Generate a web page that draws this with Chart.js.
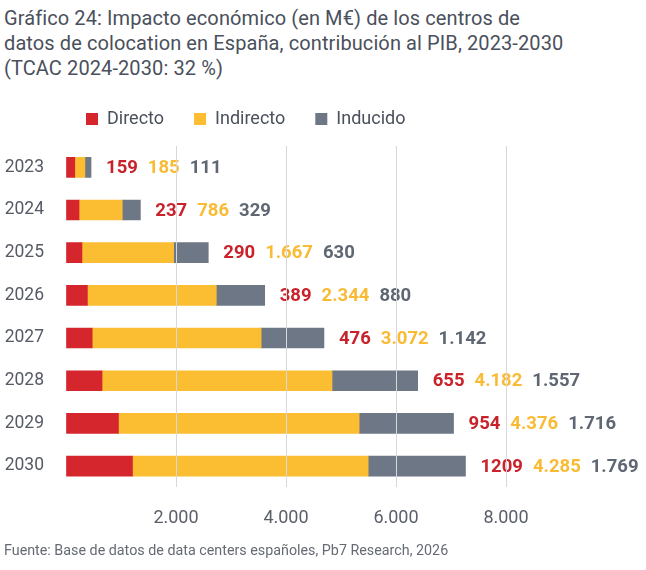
<!DOCTYPE html>
<html>
<head>
<meta charset="utf-8">
<script src="https://cdn.jsdelivr.net/npm/chart.js@4"></script>
<style>
  body { margin: 0; background: #fff; font-family: Roboto, sans-serif; }
  #wrap { position: relative; width: 646px; height: 570px; }
  #title { position: absolute; left: 4px; top: 6px; font-size: 20px; letter-spacing: 0.1px; line-height: 25px; color: #4a505c; }
  #chartBox { position: absolute; left: 0; top: 80px; width: 646px; height: 469px; }
  #source { position: absolute; left: 4px; top: 542px; font-size: 14.3px; color: #666b73; }
</style>
</head>
<body>
<div id="wrap">
  <div id="title">Gráfico 24: Impacto económico (en M€) de los centros de<br>datos de colocation en España, contribución al PIB, 2023-2030<br>(TCAC 2024-2030: 32 %)</div>
  <div id="chartBox"><canvas id="barChart"></canvas></div>
  <div id="source">Fuente: Base de datos de data centers españoles, Pb7 Research, 2026</div>
</div>
<script>
// years on the y axis
const years = ["2023", "2024", "2025", "2026", "2027", "2028", "2029", "2030"];

// economic impact per year (M€)
const directo = [159, 237, 290, 389, 476, 655, 954, 1209];
const indirecto = [185, 786, 1667, 2344, 3072, 4182, 4376, 4285];
const inducido = [111, 329, 630, 880, 1142, 1557, 1716, 1769];

// x axis ticks
const xTicks = [2000, 4000, 6000, 8000];

const RED = "#d5262e";
const YELLOW = "#fbbd31";
const GREY = "#6e7786";

// spanish style thousands: 4.285
function fmt(n, grouped) {
    if (!grouped) return String(n);
    return String(n).replace(/\B(?=(\d{3})+(?!\d))/g, ".");
}

// value labels written after the end of each bar
const endLabels = {
    id: "endLabels",
    afterDatasetsDraw(chart) {
        const ctx = chart.ctx;
        const xScale = chart.scales.x;
        const lastMeta = chart.getDatasetMeta(chart.data.datasets.length - 1);
        ctx.save();
        ctx.font = "bold 18.5px Roboto";
        ctx.textBaseline = "middle";
        ctx.textAlign = "left";
        years.forEach((_, i) => {
            let total = 0;
            chart.data.datasets.forEach(ds => total += ds.data[i]);
            let x = xScale.getPixelForValue(total) + 15;
            const y = lastMeta.data[i].y;
            chart.data.datasets.forEach(ds => {
                const txt = fmt(ds.data[i], ds.grouped);
                ctx.fillStyle = ds.labelColor;
                ctx.fillText(txt, x, y + 1);
                x += ctx.measureText(txt).width + 10;
            });
        });
        ctx.restore();
    }
};

// legend sits over the bars, not at the far left, and keeps a fixed height
const legendPlace = {
    id: "legendPlace",
    beforeInit(chart) {
        const fit = chart.legend.fit;
        chart.legend.fit = function () {
            fit.call(this);
            this.height = 66;
        };
    },
    afterLayout(chart) {
        chart.legend.left += 56;
        chart.legend.right += 56;
    }
};

const ctx = document.getElementById("barChart").getContext("2d");
const barChart = new Chart(ctx, {
    type: "bar",
    data: {
        labels: years,
        datasets: [
            { label: "Directo", data: directo, backgroundColor: RED, labelColor: "#c9222b", grouped: false },
            { label: "Indirecto", data: indirecto, backgroundColor: YELLOW, labelColor: "#f9bb34", grouped: true },
            { label: "Inducido", data: inducido, backgroundColor: GREY, labelColor: "#5f6773", grouped: true },
        ],
    },
    options: {
        indexAxis: "y",
        responsive: true,
        maintainAspectRatio: false,
        animation: false,
        barThickness: 20,
        layout: { padding: { left: 0, right: 140, top: 0, bottom: 0 } },
        plugins: {
            legend: {
                position: "top",
                align: "start",
                labels: {
                    boxWidth: 12,
                    boxHeight: 12,
                    padding: 30,
                    color: "#4a505c",
                    font: { family: "Roboto", size: 18 },
                },
            },
            tooltip: { enabled: false },
        },
        scales: {
            x: {
                stacked: true,
                min: 0,
                max: 8000,
                afterBuildTicks: (scale) => { scale.ticks = [0].concat(xTicks).map(v => ({ value: v })); },
                grid: {
                    z: 1,
                    color: (c) => c.tick && c.tick.value === 0 ? "rgba(0,0,0,0)" : "#d8d8dc",
                    drawTicks: false,
                },
                border: { display: false },
                ticks: {
                    padding: 20,
                    color: "#5a5f69",
                    font: { family: "Roboto", size: 18 },
                    callback: (v) => v === 0 ? "" : fmt(v, true),
                },
            },
            y: {
                stacked: true,
                grid: { display: false },
                border: { display: false },
                afterFit: (scale) => { scale.width = 66; },
                ticks: {
                    color: "#555a64",
                    padding: 14,
                    font: { family: "Roboto", size: 17.5 },
                },
            },
        },
    },
    plugins: [endLabels, legendPlace],
});
</script>
</body>
</html>
